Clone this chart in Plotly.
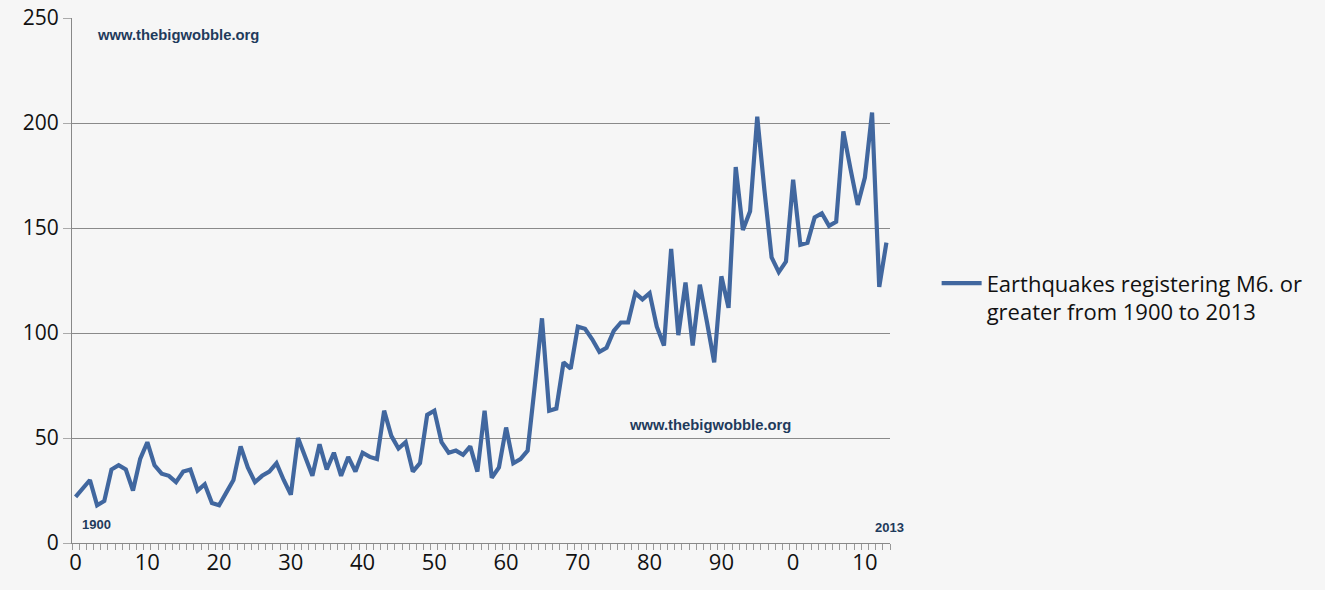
import plotly.graph_objects as go

years = list(range(1900, 2014))
quakes = [
    22, 26, 30, 18, 20, 35, 37, 35, 25, 40,
    48, 37, 33, 32, 29, 34, 35, 25, 28, 19,
    18, 24, 30, 46, 36, 29, 32, 34, 38, 30,
    23, 50, 41, 32, 47, 35, 43, 32, 41, 34,
    43, 41, 40, 63, 51, 45, 48, 34, 38, 61,
    63, 48, 43, 44, 42, 46, 34, 63, 31, 36,
    55, 38, 40, 44, 75, 107, 63, 64, 86, 83,
    103, 102, 97, 91, 93, 101, 105, 105, 119, 116,
    119, 103, 94, 140, 99, 124, 94, 123, 105, 86,
    127, 112, 179, 149, 158, 203, 168, 136, 129, 134,
    173, 142, 143, 155, 157, 151, 153, 196, 178, 161,
    174, 205, 122, 143,
]
tick_years = list(range(1900, 2020, 10))
tick_text = ["0", "10", "20", "30", "40", "50", "60", "70", "80", "90", "0", "10"]
y_ticks = [0, 50, 100, 150, 200, 250]
series_name = "Earthquakes registering M6. or<br>greater from 1900 to 2013"

fig = go.Figure()
fig.add_trace(go.Scatter(
    x=years, y=quakes, mode="lines", name=series_name,
    line=dict(color="#41679f", width=4.2),
))

note_font = dict(family="Liberation Sans, Arial", size=14.8, color="#1f3b5c")
fig.add_annotation(text="<b>www.thebigwobble.org</b>", xref="paper", yref="paper",
                   x=0.0285, y=0.968, xanchor="left", yanchor="middle",
                   showarrow=False, font=note_font)
fig.add_annotation(text="<b>www.thebigwobble.org</b>", xref="paper", yref="paper",
                   x=0.6785, y=0.225, xanchor="left", yanchor="middle",
                   showarrow=False, font=note_font)
fig.add_annotation(text="<b>1900</b>", xref="paper", yref="paper",
                   x=0.0098, y=0.036, xanchor="left", yanchor="middle",
                   showarrow=False, font=dict(family="Liberation Sans, Arial", size=13, color="#1f3b5c"))
fig.add_annotation(text="<b>2013</b>", xref="paper", yref="paper",
                   x=0.979, y=0.029, xanchor="left", yanchor="middle",
                   showarrow=False, font=dict(family="Liberation Sans, Arial", size=13, color="#1f3b5c"))

fig.update_layout(
    width=1325, height=590,
    margin=dict(l=72, r=435, t=18, b=47),
    paper_bgcolor="#f6f6f6", plot_bgcolor="#f6f6f6",
    font=dict(family="Open Sans", color="#111111"),
    showlegend=True,
    legend=dict(x=1.057, y=0.467, xanchor="left", yanchor="middle",
                valign="top", bgcolor="rgba(0,0,0,0)",
                font=dict(family="Open Sans", size=22, color="#111111"),
                itemwidth=40),
    xaxis=dict(
        range=[1899.5, 2013.5], automargin=False,
        tickmode="array", tickvals=tick_years, ticktext=tick_text,
        ticks="", showgrid=False, zeroline=False,
        showline=True, linecolor="#888888", linewidth=1,
        tickfont=dict(family="Open Sans", size=22, color="#111111"),
        minor=dict(tick0=1899.5, dtick=1, ticks="outside", ticklen=6,
                   tickcolor="#999999", showgrid=False),
    ),
    yaxis=dict(
        range=[0, 250], tickmode="array", tickvals=y_ticks, automargin=False,
        showgrid=True, gridcolor="#8a8a8a", gridwidth=1,
        zeroline=False, showline=True, linecolor="#888888", linewidth=1,
        ticks="outside", ticklen=8, tickcolor="#aaaaaa",
        tickfont=dict(family="Open Sans", size=21, color="#111111"),
    ),
)

fig.write_html(
    "out.html",
    config={"displayModeBar": False},
    post_script="document.body.style.margin='0';document.body.style.overflow='hidden';"
                "document.documentElement.style.overflow='hidden';",
)
